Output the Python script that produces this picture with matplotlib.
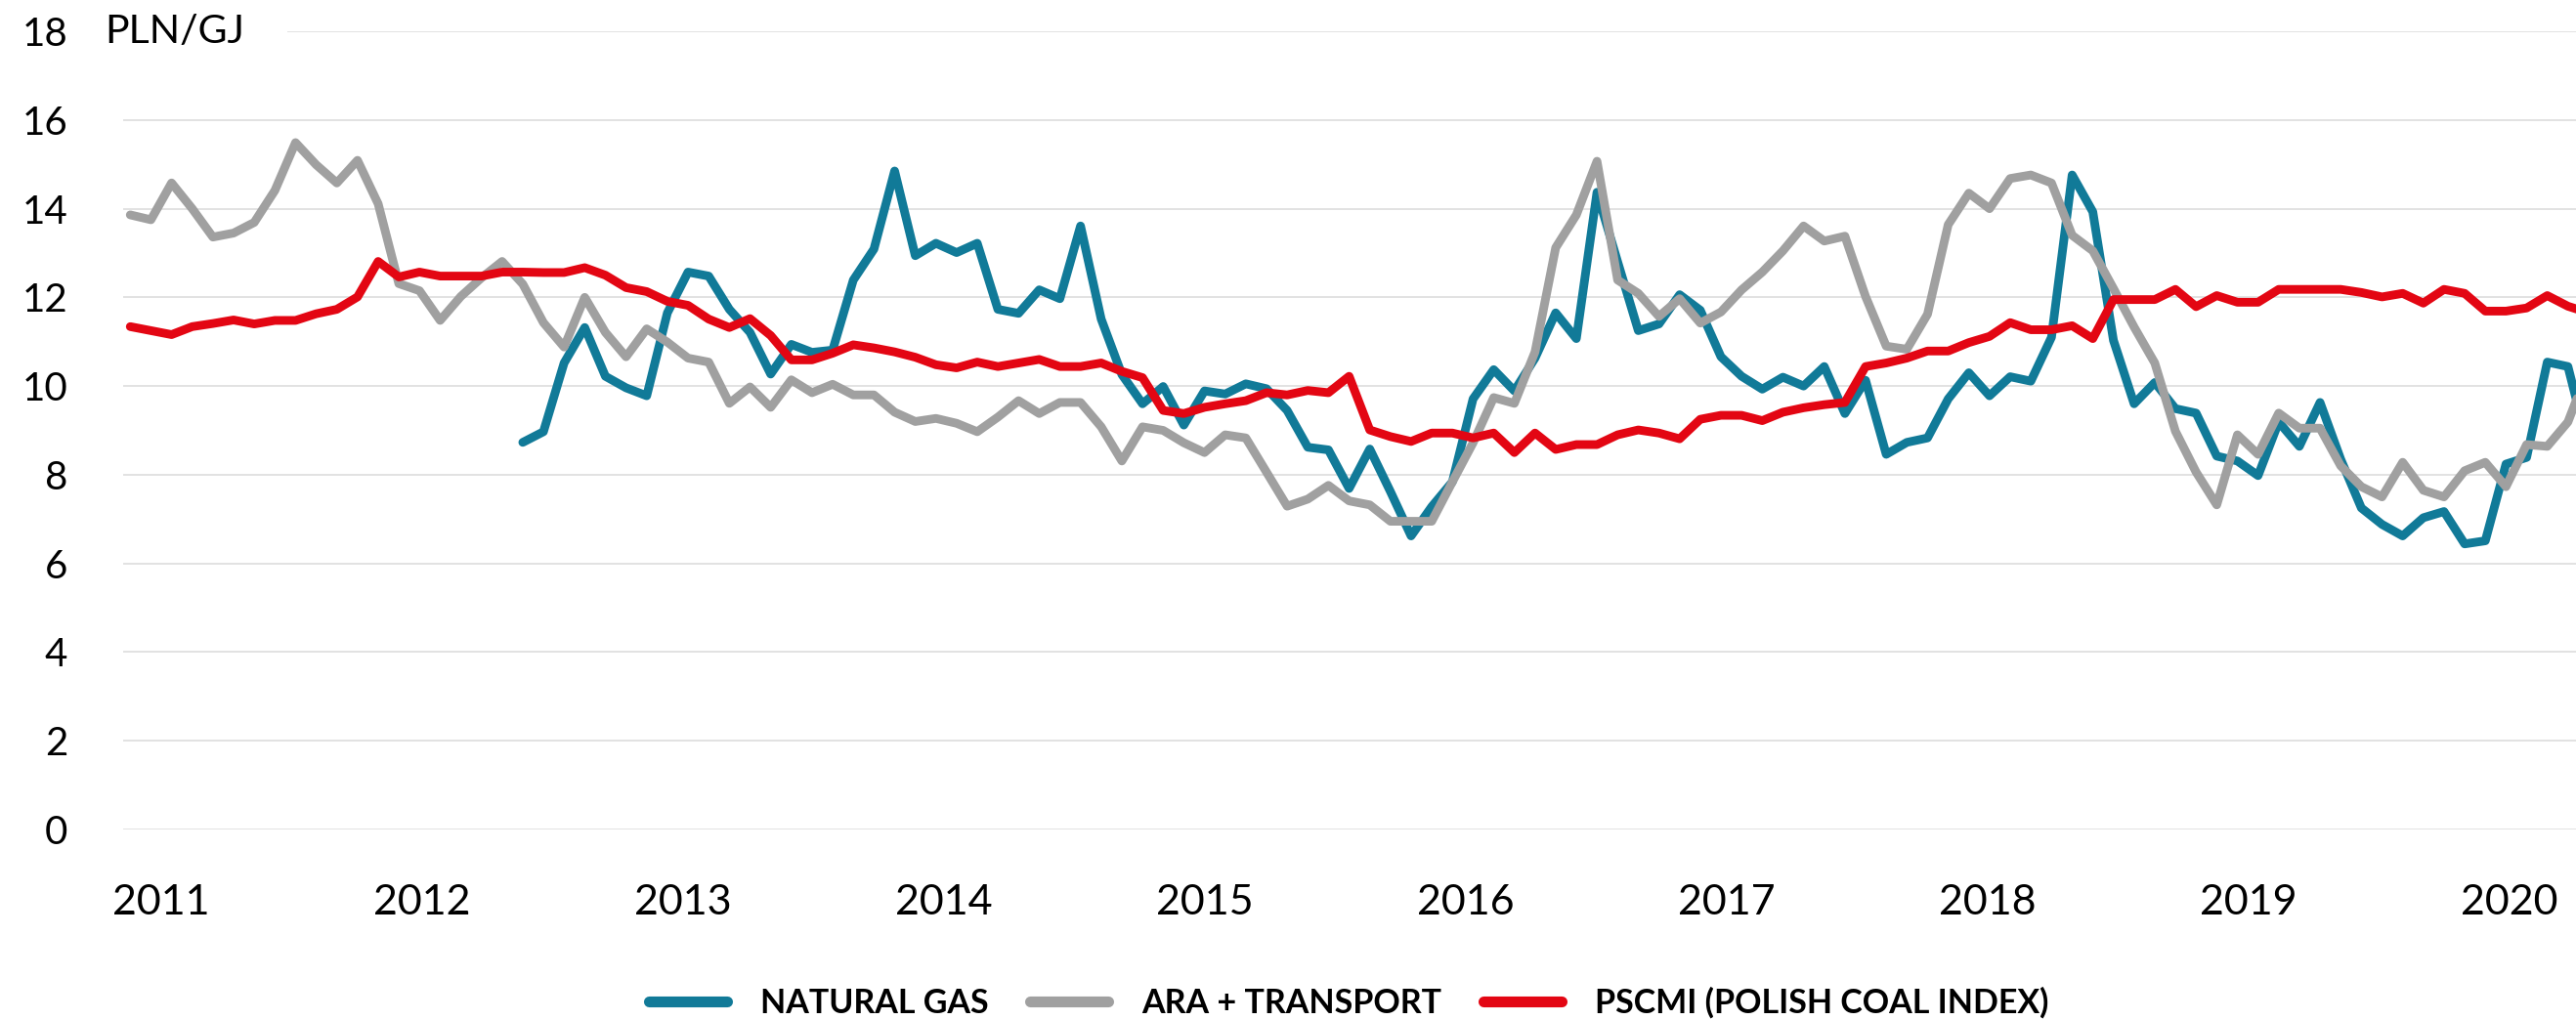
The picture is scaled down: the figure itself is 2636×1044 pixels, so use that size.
import numpy as np
import matplotlib
matplotlib.use("Agg")
import matplotlib.pyplot as plt

plt.rcParams["font.family"] = ["Lato", "DejaVu Sans"]

# x axis: one point per period, first point just before Jan 2011
FIRST_X = 2010.881
STEP = 0.07918

YEARS = list(range(2011, 2021))
Y_TICKS = list(range(0, 19, 2))
UNIT = "PLN/GJ"

LABELS = ["NATURAL GAS", "ARA + TRANSPORT", "PSCMI (POLISH COAL INDEX)"]
COLORS = ["#117a98", "#a0a0a0", "#e30613"]

nan = np.nan
natural_gas = [nan] * 19 + [
    8.73, 8.97, 10.52, 11.32, 10.22, 9.96, 9.78, 11.65, 12.57, 12.48,
    11.73, 11.21, 10.27, 10.94, 10.76, 10.81, 12.39, 13.09, 14.85, 12.94,
    13.22, 13.01, 13.22, 11.73, 11.64, 12.17, 11.97, 13.61, 11.51, 10.26,
    9.60, 9.99, 9.12, 9.89, 9.82, 10.05, 9.94, 9.45, 8.62, 8.56,
    7.69, 8.58, 7.62, 6.62, 7.28, 7.84, 9.71, 10.37, 9.89, 10.63,
    11.65, 11.07, 14.37, 12.80, 11.25, 11.40, 12.06, 11.71, 10.66, 10.22,
    9.93, 10.20, 10.00, 10.44, 9.38, 10.13, 8.46, 8.73, 8.83, 9.71,
    10.30, 9.78, 10.21, 10.11, 11.10, 14.76, 13.93, 11.03, 9.60, 10.08,
    9.49, 9.39, 8.42, 8.31, 7.98, 9.19, 8.64, 9.63, 8.35, 7.25,
    6.88, 6.62, 7.03, 7.17, 6.44, 6.51, 8.24, 8.39, 10.54, 10.44,
    8.60,
]
ara_transport = [
    13.86, 13.75, 14.58, 14.00, 13.36, 13.45, 13.69, 14.41, 15.49, 14.99,
    14.58, 15.09, 14.11, 12.31, 12.15, 11.48, 12.02, 12.44, 12.81, 12.30,
    11.43, 10.88, 12.00, 11.21, 10.66, 11.29, 10.99, 10.63, 10.54, 9.61,
    9.98, 9.52, 10.14, 9.85, 10.04, 9.80, 9.80, 9.41, 9.20, 9.27,
    9.16, 8.97, 9.30, 9.67, 9.38, 9.63, 9.63, 9.08, 8.31, 9.08,
    9.00, 8.72, 8.50, 8.90, 8.83, 8.06, 7.29, 7.45, 7.76, 7.41,
    7.32, 6.95, 6.95, 6.95, 7.84, 8.72, 9.74, 9.61, 10.77, 13.12,
    13.86, 15.07, 12.39, 12.09, 11.57, 11.97, 11.42, 11.67, 12.17, 12.57,
    13.05, 13.61, 13.27, 13.38, 12.02, 10.90, 10.83, 11.62, 13.64, 14.35,
    14.00, 14.68, 14.76, 14.58, 13.40, 13.05, 12.20, 11.33, 10.52, 8.98,
    8.06, 7.32, 8.90, 8.46, 9.39, 9.05, 9.05, 8.20, 7.73, 7.50,
    8.28, 7.65, 7.50, 8.09, 8.28, 7.73, 8.68, 8.64, 9.19, 10.40,
]
pscmi = [
    11.34, 11.25, 11.16, 11.34, 11.41, 11.49, 11.40, 11.48, 11.48, 11.63,
    11.73, 12.01, 12.81, 12.46, 12.57, 12.48, 12.48, 12.48, 12.57, 12.57,
    12.56, 12.56, 12.67, 12.50, 12.22, 12.13, 11.91, 11.82, 11.51, 11.32,
    11.52, 11.14, 10.59, 10.59, 10.74, 10.93, 10.86, 10.77, 10.65, 10.48,
    10.41, 10.54, 10.44, 10.52, 10.60, 10.44, 10.44, 10.52, 10.33, 10.19,
    9.45, 9.38, 9.52, 9.60, 9.67, 9.85, 9.80, 9.90, 9.85, 10.22,
    9.01, 8.86, 8.75, 8.94, 8.94, 8.83, 8.94, 8.50, 8.94, 8.57,
    8.68, 8.68, 8.90, 9.01, 8.94, 8.81, 9.25, 9.34, 9.34, 9.22,
    9.41, 9.51, 9.58, 9.63, 10.44, 10.52, 10.63, 10.79, 10.79, 10.98,
    11.12, 11.43, 11.27, 11.27, 11.36, 11.07, 11.95, 11.95, 11.95, 12.18,
    11.79, 12.04, 11.89, 11.89, 12.18, 12.18, 12.18, 12.18, 12.11, 12.01,
    12.09, 11.87, 12.18, 12.09, 11.69, 11.69, 11.76, 12.04, 11.80, 11.65,
]


def main():
    series = [natural_gas, ara_transport, pscmi]
    x = FIRST_X + STEP * np.arange(len(pscmi))

    fig = plt.figure(figsize=(26.36, 10.44), dpi=100)
    ax = fig.add_axes([0.0478, 0.1868, 0.9522, 0.7825])

    # grid lines (the top one leaves room for the unit label)
    for t in Y_TICKS:
        xmin = 0.0673 if t == Y_TICKS[-1] else 0.0
        ax.axhline(t, xmin=xmin, xmax=1.0, color="#e2e2e2", lw=1.4, zorder=0)

    for vals, label, color in zip(series, LABELS, COLORS):
        ax.plot(x, vals, color=color, lw=6.4, label=label,
                solid_joinstyle="round", solid_capstyle="round", zorder=2)

    ax.set_xlim(FIRST_X - 0.345 * STEP, FIRST_X + 118.39 * STEP)
    ax.set_ylim(0, 18)
    ax.set_xticks(YEARS)
    ax.set_xticklabels([str(y) for y in YEARS], fontsize=31)
    ax.set_yticks(Y_TICKS)
    ax.set_yticklabels([str(t) for t in Y_TICKS], fontsize=29)
    ax.tick_params(axis="x", length=0, pad=40)
    ax.tick_params(axis="y", length=0, pad=41)
    for side in ax.spines.values():
        side.set_visible(False)

    fig.text(107 / 2636, 1 - 32 / 1044, UNIT, fontsize=29.5, va="center", ha="left")

    leg = fig.legend(loc="center", bbox_to_anchor=(0.5235, 0.017), ncol=3,
                     frameon=False, handlelength=2.35, handletextpad=1.0,
                     columnspacing=1.25, prop={"size": 24.5, "weight": "bold"})
    for line in leg.get_lines():
        line.set_linewidth(8)
        line.set_solid_capstyle("round")

    fig.savefig("out.png", dpi=100)
    plt.close(fig)


if __name__ == "__main__":
    main()
